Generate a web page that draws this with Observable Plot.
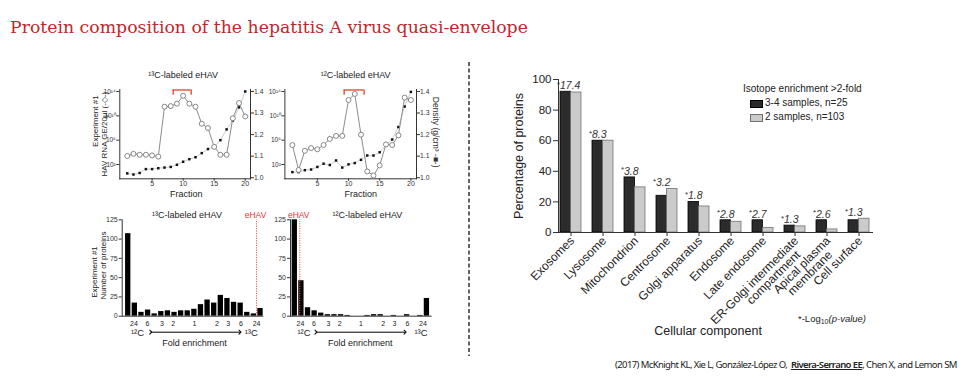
<!DOCTYPE html>
<html><head><meta charset="utf-8">
<script src="https://cdn.jsdelivr.net/npm/d3@7"></script>
<script src="https://cdn.jsdelivr.net/npm/@observablehq/plot@0.6"></script>
<style>
html,body{margin:0;padding:0;background:#fff;}
#slide{position:relative;width:960px;height:384px;overflow:hidden;font-family:"Liberation Sans",Arial,sans-serif;color:#222;}
.abs{position:absolute;}
#title{left:10px;top:18px;font-family:"DejaVu Serif",serif;font-size:17.3px;line-height:18px;color:#c0272d;white-space:nowrap;}
#legend{left:743px;top:83px;font-size:10px;line-height:12px;color:#222;}
.lg-row{position:relative;height:14px;padding-left:22px;margin-left:0;}
.sw{position:absolute;left:7px;top:2.5px;width:11px;height:6px;}
#foot{left:798px;top:313px;font-size:9.5px;color:#222;white-space:nowrap;}
#foot sub{font-size:7px;vertical-align:-2px;}
#cite{left:615px;top:358px;font-family:"Noto Sans",sans-serif;font-size:9.5px;letter-spacing:-0.6px;color:#222;white-space:nowrap;}
#cite u{font-weight:600;}
</style></head>
<body><div id="slide">
<div id="title" class="abs">Protein composition of the hepatitis A virus quasi-envelope</div>
</div>
<script>
// ---------- Main chart data ----------
const categories = ["Exosomes","Lysosome","Mitochondrion","Centrosome","Golgi apparatus","Endosome","Late endosome","ER-Golgi intermediate\ncompartment","Apical plasma\nmembrane","Cell surface"];
const pct34 = [92, 60, 36, 24, 20, 8, 8, 4.5, 8, 8];
const pct2 = [91.5, 60, 29.5, 28.5, 17, 7, 3, 4, 2, 9];
const negLogP = [17.4, 8.3, 3.8, 3.2, 1.8, 2.8, 2.7, 1.3, 2.6, 1.3];
const seriesNames = ["3-4 samples, n=25", "2 samples, n=103"];
const legendTitle = "Isotope enrichment >2-fold";
const yTicksMain = [0, 20, 40, 60, 80, 100];

// ---------- Panel A data (fractions) ----------
const fractions = [1,2,3,4,5,6,7,8,9,10,11,12,13,14,15,16,17,18,19,20];
const rnaA1 = [3.4, 3.75, 3.6, 3.6, 3.5, 3.3, 11.5, 11.6, 12.0, 13.3, 12.0, 11.5, 8.7, 8.0, 4.9, 3.6, 3.6, 9.6, 12.1, 9.9]; // log10 GE
const densA1 = [1.02, 1.015, 1.022, 1.04, 1.04, 1.044, 1.047, 1.05, 1.06, 1.074, 1.086, 1.095, 1.114, 1.133, 1.144, 1.174, 1.224, 1.265, 1.326, 1.40];
const rnaA2 = [5.2, 1.1, 4.25, 4.7, 4.5, 5.2, 6.2, 6.7, 6.7, 12.6, 13.6, 6.9, 0.85, 0.2, 1.85, 5.3, 5.2, 6.8, 13.0, 12.6];
const densA2 = [1.026, 1.026, 1.035, 1.038, 1.05, 1.065, 1.059, 1.08, 1.047, 1.062, 1.068, 1.083, 1.103, 1.103, 1.118, 1.151, 1.177, 1.235, 1.33, 1.398];
const bracketA1 = [8.4, 11.3];
const bracketA2 = [9.3, 12.5];
const rnaTicks = [2, 6, 10, 14];
const densTicks = [1.0, 1.1, 1.2, 1.3, 1.4];
const fractionTicks = [5, 10, 15, 20];

// ---------- Panel B data (fold-enrichment histograms) ----------
const countsB1 = [107, 17, 5, 8, 3, 6, 7, 5, 7, 7, 9, 15, 21, 17, 27, 23, 18, 17, 5, 3, 10];
const countsB2 = [125, 46, 11, 7, 4, 2, 2, 2, 1, 0, 0, 1, 2, 2, 0, 1, 0, 2, 0, 1, 23];
const foldLabels = ["24","6","3","2","1","2","3","6","24"];
const foldPos = [1.86, 3.9, 6.1, 7.8, 11, 14.4, 16.1, 18.05, 20.4];
const isoLabels = ["\u00B9\u00B2C", "\u00B9\u00B3C"];
const isoPosB1 = [2.4, 19.6];
const isoPosB2 = [2.4, 20.1];
const arrowB1 = [4.4, 17.9];
const arrowB2 = [4.2, 17.7];
const eHAVB1 = 20.4;
const eHAVB2 = 1.75;
const countTicks = [0, 25, 50, 75, 100, 125];

const slide = document.getElementById("slide");
function place(node, left, top) {
  const d = document.createElement("div");
  d.className = "abs";
  d.style.left = left + "px"; d.style.top = top + "px";
  d.appendChild(node); slide.appendChild(d);
}
const FONT = "Liberation Sans, Arial, sans-serif";
const supDigits = "⁰¹²³⁴⁵⁶⁷⁸⁹";
const sup = n => String(n).split("").map(c => supDigits[+c]).join("");
const C = {textAnchor: "middle", lineAnchor: "middle"};

// ---------- Main chart ----------
const mainRows = categories.map((c, i) => ({
  category: c, a: pct34[i], b: pct2[i], p: negLogP[i],
  top: Math.max(pct34[i], pct2[i]),
  l1: c.split("\n")[0], l2: c.split("\n")[1] || ""
}));
const main = Plot.plot({
  width: 480, height: 300,
  marginLeft: 78, marginRight: 87, marginTop: 19, marginBottom: 128,
  style: {background: "transparent", fontFamily: FONT, fontSize: "11px", color: "#222", overflow: "visible"},
  x: {type: "band", domain: categories, range: [78, 390], paddingInner: 0.34375, paddingOuter: 0.046875},
  y: {domain: [0, 100]},
  marks: [
    Plot.barY(mainRows, {x: "category", y: "a", fill: "#2b2b2b", stroke: "#000", strokeWidth: 0.8, insetRight: 10.5}),
    Plot.barY(mainRows, {x: "category", y: "b", fill: "#cbcbcb", stroke: "#707070", strokeWidth: 0.8, insetLeft: 10.5}),
    Plot.frame({anchor: "left", stroke: "#333"}),
    Plot.ruleY([0], {stroke: "#333"}),
    Plot.axisY({ticks: yTicksMain, tickSize: 5, tickPadding: 2, label: null, fontSize: 11.5, stroke: "#333"}),
    Plot.axisX({tickSize: 4, tickFormat: () => "", label: null, stroke: "#333"}),
    Plot.text(mainRows, {x: "category", text: "l1", frameAnchor: "bottom", rotate: -45, textAnchor: "end", lineAnchor: "top", dx: -2, dy: 3, fontSize: 12, fill: "#222"}),
    Plot.text(mainRows.filter(d => d.l2), {x: "category", text: "l2", frameAnchor: "bottom", rotate: -45, textAnchor: "end", lineAnchor: "top", dx: 0, dy: 17, fontSize: 12, fill: "#222"}),
    Plot.text(mainRows, {x: "category", y: "top", text: d => d.p.toFixed(1), textAnchor: "start", lineAnchor: "bottom", dx: -11, dy: -2.5, fontStyle: "italic", fontSize: 10.5, fill: "#333"}),
    Plot.text(mainRows, {x: "category", y: "top", text: () => "*", textAnchor: "start", lineAnchor: "bottom", dx: -14, dy: -5, fontSize: 8, fill: "#333"}),
    Plot.text(["Percentage of proteins"], {...C, text: d => d, frameAnchor: "left", rotate: -90, dx: -40, fontSize: 12.5, fill: "#222"}),
    Plot.text(["Cellular component"], {...C, text: d => d, frameAnchor: "bottom", dx: -8, dy: 98, fontSize: 12.5, fill: "#222"})
  ]
});
place(main, 480, 60);

// legend + footnote (HTML)
const lg = document.createElement("div");
lg.id = "legend"; lg.className = "abs";
const lgColors = [["#2b2b2b", "#000"], ["#cbcbcb", "#707070"]];
lg.innerHTML = `<div style="height:14px">${legendTitle.replace(">", "&gt;")}</div>` +
  seriesNames.map((s, i) => `<div class="lg-row"><span class="sw" style="background:${lgColors[i][0]};border:0.8px solid ${lgColors[i][1]}"></span>${s}</div>`).join("");
slide.appendChild(lg);
const foot = document.createElement("div");
foot.id = "foot"; foot.className = "abs";
foot.innerHTML = `*-Log<sub>10</sub><i>(p-value)</i>`;
slide.appendChild(foot);

// ---------- Panel A ----------
function panelA(rna, dens, bracket, opts) {
  const rows = fractions.map((f, i) => ({f, rna: rna[i], dens: dens[i]}));
  const common = {
    width: opts.width, height: 140,
    marginLeft: opts.ml, marginRight: opts.mr, marginTop: 27, marginBottom: 23.7,
    style: {background: "transparent", fontFamily: FONT, fontSize: "8px", color: "#333", overflow: "visible"}
  };
  const densPlot = Plot.plot({
    ...common,
    x: {domain: opts.xdom, axis: null},
    y: {domain: [0.995, 1.409]},
    marks: [
      Plot.frame({anchor: "right", stroke: "#333"}),
      Plot.axisY({anchor: "right", ticks: densTicks, tickFormat: d3.format(".1f"), tickSize: 3, tickPadding: 0.5, fontSize: 6.8, label: null}),
      Plot.line(rows, {x: "f", y: "dens", stroke: "#c2c2c2", strokeWidth: 0.8}),
      Plot.dot(rows, {x: "f", y: "dens", symbol: "square", r: 1.4, fill: "#111"}),
      ...(opts.densLabel ? [Plot.text([opts.densLabel], {...C, text: d => d, frameAnchor: "right", rotate: 90, dx: 19, dy: -2, fontSize: 8.5, fill: "#333"})] : [])
    ]
  });
  const rnaPlot = Plot.plot({
    ...common,
    x: {domain: opts.xdom},
    y: {domain: [-0.35, 14.33]},
    marks: [
      Plot.frame({anchor: "left", stroke: "#333"}),
      Plot.frame({anchor: "bottom", stroke: "#333"}),
      Plot.axisY({ticks: rnaTicks, tickFormat: d => "10" + sup(d), tickSize: 3, tickPadding: 1, fontSize: 6.5, label: null}),
      Plot.axisX({ticks: fractionTicks, tickSize: 2.5, tickPadding: 0, fontSize: 7, label: null}),
      Plot.line(rows, {x: "f", y: "rna", stroke: "#8c8c8c", strokeWidth: 1}),
      Plot.dot(rows, {x: "f", y: "rna", r: 2.5, fill: "white", stroke: "#7a7a7a", strokeWidth: 0.9}),
      Plot.ruleY([14.25], {x1: bracket[0], x2: bracket[1], stroke: "#e4412b", strokeWidth: 1.3}),
      Plot.ruleX(bracket, {y1: 13.4, y2: 14.25, stroke: "#e4412b", strokeWidth: 1.3}),
      Plot.text([opts.title], {...C, text: d => d, frameAnchor: "top", dx: opts.tdx, dy: -14, fontSize: 9, fill: "#222"}),
      Plot.text(["Fraction"], {...C, text: d => d, frameAnchor: "bottom", dx: opts.fdx, dy: 15, fontSize: 9, fill: "#222"}),
      ...(opts.rnaLabel ? [
        Plot.text([opts.rnaLabel], {...C, text: d => d, frameAnchor: "left", rotate: -90, dx: -15, fontSize: 8, fill: "#222"}),
        Plot.text(["Experiment #1"], {...C, text: d => d, frameAnchor: "left", rotate: -90, dx: -24.5, dy: -13, fontSize: 8, fill: "#222"})
      ] : [])
    ]
  });
  return [densPlot, rnaPlot];
}
const [a1d, a1r] = panelA(rnaA1, densA1, bracketA1, {width: 185, ml: 29.3, mr: 25, xdom: [-0.2, 20.85], title: "¹³C-labeled eHAV", tdx: -2, fdx: 1, rnaLabel: "HAV RNA GE/20µl (-◇-)"});
place(a1d, 90, 62); place(a1r, 90, 62);
const [a2d, a2r] = panelA(rnaA2, densA2, bracketA2, {width: 190, ml: 29.4, mr: 29, xdom: [-0.2, 20.9], title: "¹²C-labeled eHAV", tdx: 5, fdx: 10, densLabel: "Density (g/cm³ -■-)"});
place(a2d, 255, 62); place(a2r, 255, 62);

// ---------- Panel B ----------
function panelB(counts, opts) {
  const rows = counts.map((c, i) => ({bin: i + 1, count: c}));
  const ticks = foldLabels.map((l, i) => ({pos: foldPos[i], label: l}));
  const iso = isoLabels.map((l, i) => ({pos: opts.iso[i], label: l}));
  return Plot.plot({
    width: 185, height: 150,
    marginLeft: opts.ml, marginRight: opts.mr, marginTop: 19.3, marginBottom: 34.3,
    style: {background: "transparent", fontFamily: FONT, fontSize: "8px", color: "#333", overflow: "visible"},
    x: {domain: opts.xdom, axis: null},
    y: {domain: [0, 125]},
    marks: [
      Plot.rectY(rows, {x1: d => d.bin - 0.5, x2: d => d.bin + 0.5, y: "count", insetLeft: 0.65, insetRight: 0.65, fill: "#000"}),
      Plot.frame({anchor: "left", stroke: "#333"}),
      Plot.ruleY([0], {stroke: "#333"}),
      Plot.axisY({ticks: countTicks, tickSize: 3, tickPadding: 1.5, fontSize: 7, label: null}),
      Plot.ruleX([opts.eHAV], {y1: 0, y2: 125, stroke: "#ee5a5a", strokeWidth: 1, strokeDasharray: "1.2,1.2"}),
      Plot.text([opts.eHAV], {...C, x: d => d, text: () => "eHAV", frameAnchor: "top", dx: -1, dy: -4.5, fontSize: 8.5, fill: "#e8323a"}),
      Plot.text([opts.title], {...C, text: d => d, frameAnchor: "top", dx: opts.tdx, dy: -4.5, fontSize: 9, fill: "#222"}),
      Plot.text(ticks, {...C, x: "pos", text: "label", frameAnchor: "bottom", dy: 7.3, fontSize: 7, fill: "#222"}),
      Plot.text(iso, {...C, x: "pos", text: "label", frameAnchor: "bottom", dy: 17, fontSize: 9.5, fill: "#222"}),
      Plot.link([opts.arrow], {x1: d => d[0], x2: d => d[1], y1: 0, y2: 0, dy: 16, stroke: "#000", strokeWidth: 1, markerStart: "arrow", markerEnd: "arrow"}),
      Plot.text(["Fold enrichment"], {...C, text: d => d, frameAnchor: "bottom", dx: opts.fdx, dy: 27, fontSize: 9, fill: "#222"}),
      ...(opts.ylab ? [
        Plot.text(["Number of proteins"], {...C, text: d => d, frameAnchor: "left", rotate: -90, dx: -19, dy: -2.5, fontSize: 8, fill: "#222"}),
        Plot.text(["Experiment #1"], {...C, text: d => d, frameAnchor: "left", rotate: -90, dx: -27.5, dy: 4, fontSize: 8, fill: "#222"})
      ] : [])
    ]
  });
}
place(panelB(countsB1, {ml: 31.7, mr: 11.7, xdom: [0.09, 21.5], iso: isoPosB1, arrow: arrowB1, eHAV: eHAVB1, title: "¹³C-labeled eHAV", tdx: -6, fdx: 1.5, ylab: true}), 90, 200);
place(panelB(countsB2, {ml: 20, mr: 23.3, xdom: [0.35, 21.8], iso: isoPosB2, arrow: arrowB2, eHAV: eHAVB2, title: "¹²C-labeled eHAV", tdx: 6, fdx: -1}), 270, 200);

// ---------- separator + citation ----------
const sep = document.createElementNS("http://www.w3.org/2000/svg", "svg");
sep.setAttribute("width", 4); sep.setAttribute("height", 294);
sep.innerHTML = `<line x1="2" x2="2" y1="0" y2="294" stroke="#111" stroke-width="1.3" stroke-dasharray="4 2.5"/>`;
place(sep, 467, 62);
const cite = document.createElement("div");
cite.id = "cite"; cite.className = "abs";
cite.innerHTML = `(2017) McKnight KL, Xie L, González-López O,&nbsp; <u>Rivera-Serrano EE</u>, Chen X, and Lemon SM`;
slide.appendChild(cite);
</script>
</body></html>
